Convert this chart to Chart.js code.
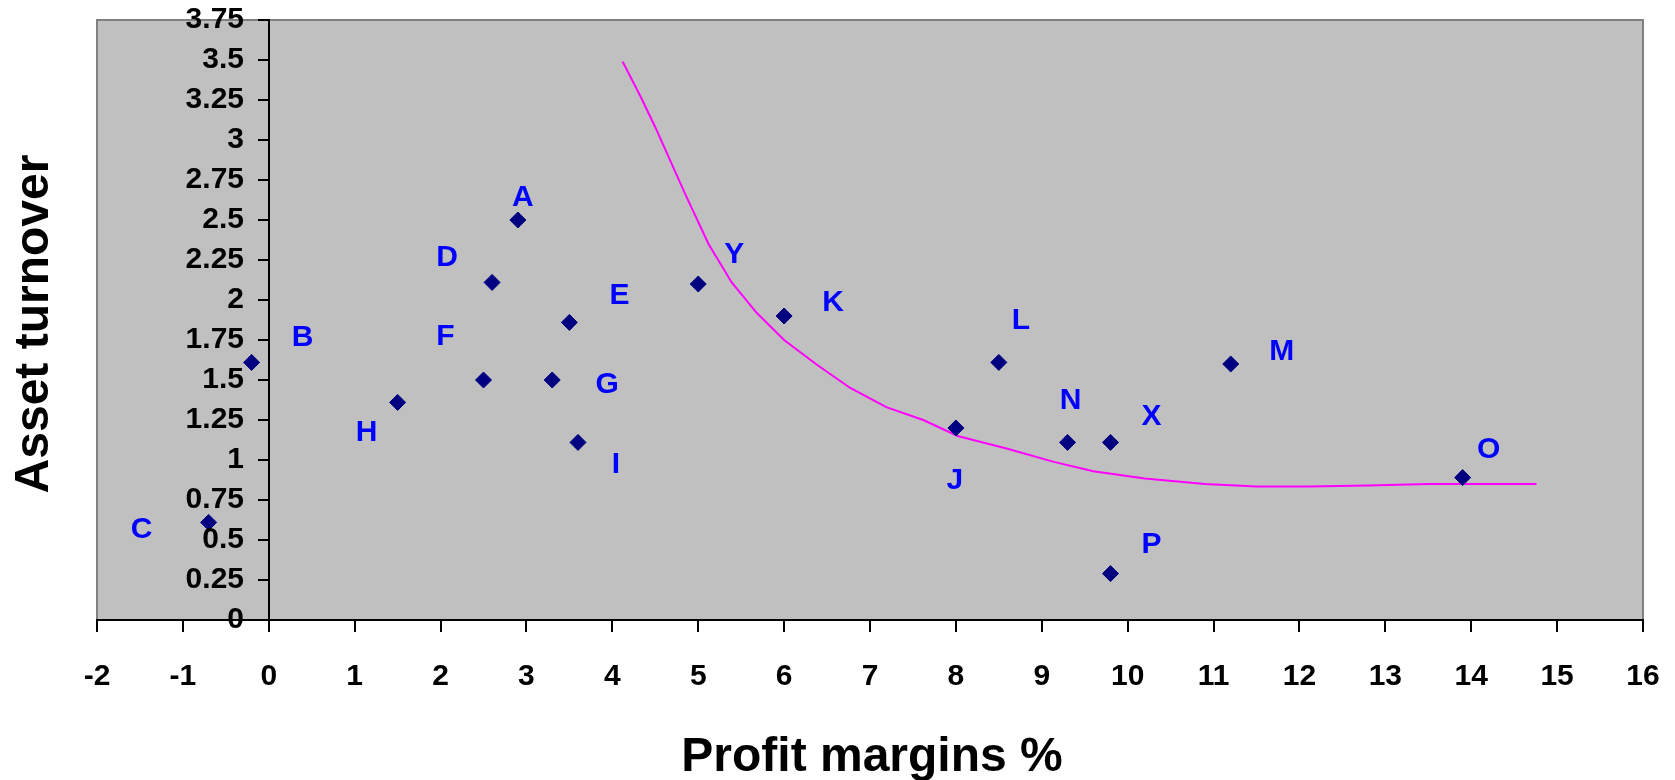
<!DOCTYPE html>
<html>
<head>
<meta charset="utf-8">
<script src="https://cdn.jsdelivr.net/npm/chart.js@4/dist/chart.umd.min.js"></script>
<style>
  html, body { margin: 0; padding: 0; background: #ffffff; }
  #wrap { width: 1675px; height: 780px; }
</style>
</head>
<body>
<div id="wrap"><canvas id="chart" width="1675" height="780"></canvas></div>
<script>
// Firms: profit margin (%) vs asset turnover
const firms          = ['A',  'B',   'C',   'D',  'E',  'F', 'G', 'H',  'I',  'J', 'K', 'L',  'M',  'N',  'O',  'P', 'X',  'Y'];
const profitMargin   = [2.9,  -0.2,  -0.7,  2.6,  3.5,  2.5, 3.3, 1.5,  3.6,  8.0, 6.0, 8.5,  11.2, 9.3,  13.9, 9.8, 9.8,  5.0];
const assetTurnover  = [2.5,  1.61,  0.61,  2.11, 1.86, 1.5, 1.5, 1.36, 1.11, 1.2, 1.9, 1.61, 1.6,  1.11, 0.89, 0.29, 1.11, 2.1];

// Reference curve
const curveMargin    = [4.12, 4.33, 4.5,  4.85, 5.12, 5.39, 5.68, 6.0,  6.37, 6.77, 7.19, 7.62, 8.02, 8.6,  9.13, 9.6,  10.2,  10.9, 11.5,  12.1,  12.8, 13.5, 14.76];
const curveTurnover  = [3.49, 3.27, 3.08, 2.66, 2.35, 2.11, 1.92, 1.75, 1.6,  1.45, 1.33, 1.25, 1.15, 1.07, 0.99, 0.93, 0.885, 0.85, 0.835, 0.835, 0.84, 0.85, 0.85];

// Axis ticks
const xTickValues = [-2, -1, 0, 1, 2, 3, 4, 5, 6, 7, 8, 9, 10, 11, 12, 13, 14, 15, 16];
const yTickValues = [0, 0.25, 0.5, 0.75, 1, 1.25, 1.5, 1.75, 2, 2.25, 2.5, 2.75, 3, 3.25, 3.5, 3.75];
const yTickLabels = ['0', '0.25', '0.5', '0.75', '1', '1.25', '1.5', '1.75', '2', '2.25', '2.5', '2.75', '3', '3.25', '3.5', '3.75'];

const xTitle = 'Profit margins %';
const yTitle = 'Asset turnover';

// Where each firm's letter sits relative to its marker (px)
const labelOffset = {
  A: [5, -22], B: [51, -25], C: [-67, 7], D: [-45, -25], E: [50, -27], F: [-38, -43],
  G: [55, 5], H: [-31, 30], I: [38, 22], J: [-1, 53], K: [49, -13], L: [22, -42],
  M: [51, -12], N: [3, -42], O: [26, -28], P: [41, -29], X: [41, -26], Y: [36, -29]
};

const FONT = "'Liberation Sans', Arial, Helvetica, sans-serif";
const Y_TICK_LEN = 10;
const Y_TICK_PAD = 15;

const plotFrame = {
  id: 'plotFrame',
  beforeDraw(chart) {
    const { ctx, chartArea: a } = chart;
    ctx.save();
    ctx.fillStyle = '#C0C0C0';
    ctx.fillRect(a.left, a.top, a.right - a.left, a.bottom - a.top);
    ctx.strokeStyle = '#808080';
    ctx.lineWidth = 2;
    ctx.beginPath();
    ctx.moveTo(a.left, a.bottom);
    ctx.lineTo(a.left, a.top);
    ctx.lineTo(a.right, a.top);
    ctx.lineTo(a.right, a.bottom);
    ctx.stroke();
    ctx.restore();
  }
};

// Tick marks and labels of the value axis, which crosses at zero margin
const crossingAxisTicks = {
  id: 'crossingAxisTicks',
  afterDraw(chart) {
    const { ctx, scales: { x, y } } = chart;
    const axisX = Math.round(x.getPixelForValue(0));
    ctx.save();
    ctx.strokeStyle = '#000000';
    ctx.lineWidth = 2;
    ctx.fillStyle = '#000000';
    ctx.font = 'bold 30px ' + FONT;
    ctx.textAlign = 'right';
    ctx.textBaseline = 'middle';
    y.ticks.forEach((t, i) => {
      const py = Math.round(y.getPixelForValue(t.value));
      ctx.beginPath();
      ctx.moveTo(axisX - 1, py);
      ctx.lineTo(axisX - 1 - Y_TICK_LEN, py);
      ctx.stroke();
      const lbl = yTickLabels[yTickValues.indexOf(t.value)] ?? String(t.value);
      ctx.fillText(lbl, axisX - Y_TICK_LEN - Y_TICK_PAD, py);
    });
    ctx.restore();
  }
};

const firmLabels = {
  id: 'firmLabels',
  afterDatasetsDraw(chart) {
    const { ctx, scales: { x, y } } = chart;
    ctx.save();
    ctx.font = 'bold 30px ' + FONT;
    ctx.fillStyle = '#0000FF';
    ctx.textAlign = 'center';
    ctx.textBaseline = 'middle';
    firms.forEach((name, i) => {
      const off = labelOffset[name] || [0, 0];
      const px = x.getPixelForValue(profitMargin[i]) + off[0];
      const py = y.getPixelForValue(assetTurnover[i]) + off[1];
      ctx.fillText(name, px, py);
    });
    ctx.restore();
  }
};

const axisTitles = {
  id: 'axisTitles',
  afterDraw(chart) {
    const { ctx, chartArea: a } = chart;
    ctx.save();
    ctx.fillStyle = '#000000';
    ctx.font = 'bold 48px ' + FONT;
    ctx.textAlign = 'center';
    ctx.textBaseline = 'alphabetic';
    ctx.fillText(xTitle, (a.left + a.right) / 2 + 2, 771);
    ctx.translate(48, (a.top + a.bottom) / 2 + 4);
    ctx.rotate(-Math.PI / 2);
    ctx.fillText(yTitle, 0, 0);
    ctx.restore();
  }
};

new Chart(document.getElementById('chart'), {
  type: 'scatter',
  data: {
    datasets: [
      {
        label: 'Firms',
        data: profitMargin.map((v, i) => ({ x: v, y: assetTurnover[i] })),
        pointStyle: 'rectRot',
        pointRadius: 8,
        pointHoverRadius: 8,
        backgroundColor: '#000080',
        borderColor: '#000080',
        borderWidth: 1,
        order: 1
      },
      {
        label: 'Curve',
        data: curveMargin.map((v, i) => ({ x: v, y: curveTurnover[i] })),
        showLine: true,
        borderColor: '#FF00FF',
        borderWidth: 2,
        pointRadius: 0,
        tension: 0,
        fill: false,
        order: 2
      }
    ]
  },
  options: {
    responsive: false,
    devicePixelRatio: 1,
    animation: false,
    layout: { padding: { left: 97, right: 32, top: 20, bottom: 0 } },
    plugins: {
      legend: { display: false },
      tooltip: { enabled: false },
      title: { display: false }
    },
    scales: {
      x: {
        type: 'linear',
        position: 'bottom',
        min: -2,
        max: 16,
        afterBuildTicks(scale) { scale.ticks = xTickValues.map(v => ({ value: v })); },
        afterFit(scale) { scale.height = 160; scale.paddingLeft = 0; scale.paddingRight = 0; },
        ticks: {
          color: '#000000',
          font: { family: FONT, size: 30, weight: 'bold' },
          padding: 27,
          maxRotation: 0,
          autoSkip: false,
          callback: (v) => String(v)
        },
        grid: { drawOnChartArea: false, drawTicks: true, tickLength: 12, color: '#000000', lineWidth: 2 },
        border: { display: true, color: '#000000', width: 2 }
      },
      y: {
        type: 'linear',
        position: { x: 0 },
        min: 0,
        max: 3.75,
        afterBuildTicks(scale) { scale.ticks = yTickValues.map(v => ({ value: v })); },
        afterFit(scale) { scale.paddingTop = 0; scale.paddingBottom = 0; },
        ticks: { display: false },
        grid: { drawOnChartArea: false, drawTicks: false },
        border: { display: true, color: '#000000', width: 2 }
      }
    }
  },
  plugins: [plotFrame, crossingAxisTicks, firmLabels, axisTitles]
});
</script>
</body>
</html>
